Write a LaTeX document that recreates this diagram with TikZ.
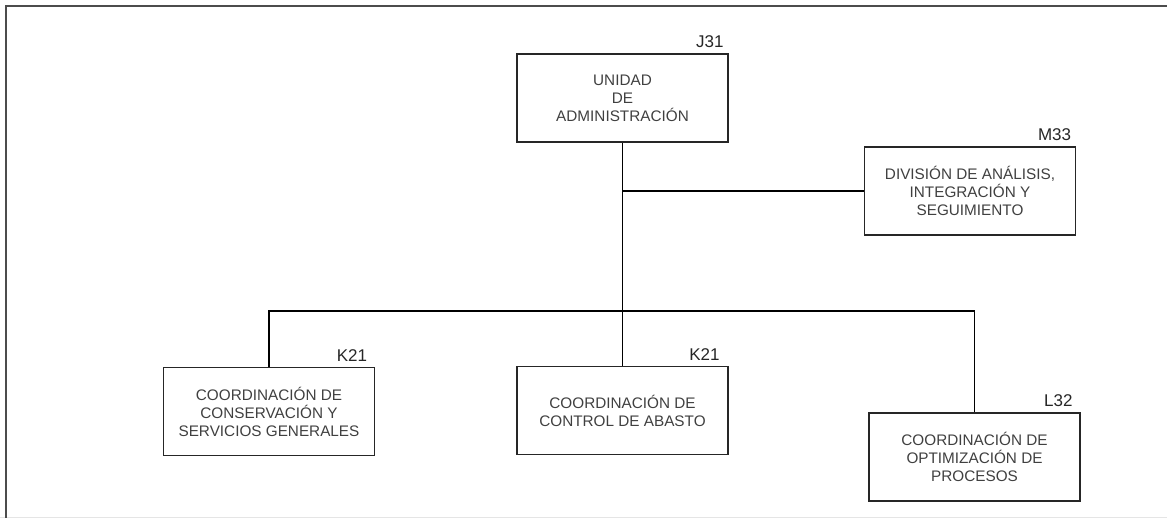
\documentclass[tikz,border=0pt]{standalone}
\usepackage{fontspec}
\setmainfont{Liberation Sans}
\begin{document}
\begin{tikzpicture}[x=1pt,y=-1pt,
  unitbox/.style={draw=black!85, line width=1.6pt, fill=white, align=center,
    text=black!75, font=\fontsize{15.3}{18}\selectfont, inner sep=0pt,
    minimum width=211pt, minimum height=88pt},
  codelabel/.style={anchor=south east, inner sep=0pt, text=black!85,
    font=\fontsize{17}{19}\selectfont},
  link/.style={draw=black, line width=1.6pt}]
\useasboundingbox (0,0) rectangle (1167,518);
% outer frame
\draw[black!10, line width=1pt] (0,517) -- (1167,517);
\draw[black!70, line width=2pt] (6,518) -- (6,6) -- (1167,6);
% boxes
\node[unitbox] (uni)  at (622.5,98)   {UNIDAD\\DE\\ADMINISTRACIÓN};
\node[unitbox] (div)  at (970,191)    {DIVISIÓN DE ANÁLISIS,\\INTEGRACIÓN Y\\SEGUIMIENTO};
\node[unitbox] (cons) at (269,411.5)  {COORDINACIÓN DE\\CONSERVACIÓN Y\\SERVICIOS GENERALES};
\node[unitbox] (ctrl) at (622.5,410.5){COORDINACIÓN DE\\CONTROL DE ABASTO};
\node[unitbox] (opt)  at (974.5,457)  {COORDINACIÓN DE\\OPTIMIZACIÓN DE\\PROCESOS};
% codes
\node[codelabel] (luni)  at ([xshift=-5pt,yshift=5pt]uni.north east)  {J31};
\node[codelabel] (ldiv)  at ([xshift=-5pt,yshift=5pt]div.north east)  {M33};
\node[codelabel] (lcons) at ([xshift=-8pt,yshift=5pt]cons.north east) {K21};
\node[codelabel] (lctrl) at ([xshift=-9pt,yshift=5pt]ctrl.north east) {K21};
\node[codelabel] (lopt)  at ([xshift=-8pt,yshift=5pt]opt.north east)  {L32};
% connectors
\coordinate (bus) at (622,311);
\draw[link] (uni.south) -- (ctrl.north);
\draw[link] (div.west) -- (div.west -| uni.south);
\draw[link] (cons.north) |- (bus) -| (opt.north);
\end{tikzpicture}
\end{document}
